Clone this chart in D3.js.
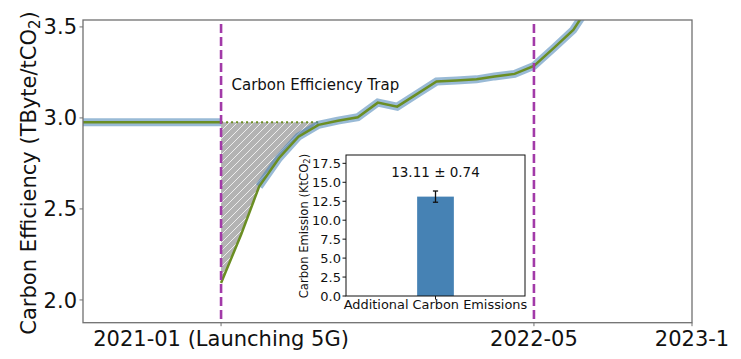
<!DOCTYPE html>
<html><head><meta charset="utf-8">
<script src="https://cdn.jsdelivr.net/npm/d3@7"></script>
<style>body{margin:0;background:#fff}svg{display:block;font-family:"DejaVu Sans",sans-serif}</style>
</head><body><svg id="c" width="741" height="359"></svg>
<script>
// ---- data ----
const preMonths = ["2020-06","2020-07","2020-08","2020-09","2020-10","2020-11","2020-12","2021-01"];
const preValues = [2.976,2.976,2.976,2.976,2.976,2.976,2.976,2.976];
const postMonths = ["2021-01","2021-02","2021-03","2021-04","2021-05","2021-06","2021-07","2021-08","2021-09","2021-10","2021-11","2021-12","2022-01","2022-02","2022-03","2022-04","2022-05","2022-06","2022-07","2022-08"];
const postValues = [2.093,2.358,2.623,2.78,2.897,2.962,2.985,3.004,3.084,3.062,3.132,3.200,3.206,3.212,3.228,3.242,3.286,3.385,3.484,3.65];
const blueStartMonth = "2021-03";
const trapBaseline = 2.976;
const trapEndMonth = "2021-06";
const eventMonths = ["2021-01","2022-05"];
const xTickMonths = ["2021-01","2022-05","2023-01"];
const xTickLabels = ["2021-01 (Launching 5G)","2022-05","2023-1"];
const yTicks = [2.0,2.5,3.0,3.5];
const insetCategories = ["Additional Carbon Emissions"];
const insetValues = [13.11];
const insetErrors = [0.74];
const insetTicks = [0,2.5,5,7.5,10,12.5,15,17.5];

// ---- setup ----
const parse = d3.utcParse("%Y-%m");
const svg = d3.select("#c");
const L=83,R=692,T=20,B=322.7;
const x = d3.scaleUtc().domain([parse("2020-06"),parse("2023-01")]).range([L,R]);
const y = d3.scaleLinear().domain([1.875,3.538]).range([B,T]);
const spine="#707070";

const defs = svg.append("defs");
defs.append("clipPath").attr("id","clip").append("rect").attr("x",L).attr("y",T).attr("width",R-L).attr("height",B-T);
const pat = defs.append("pattern").attr("id","hatch").attr("patternUnits","userSpaceOnUse").attr("width",8).attr("height",8);
pat.append("rect").attr("width",8).attr("height",8).attr("fill","#b3b3b3");
pat.append("path").attr("d","M-2,2 L2,-2 M0,8 L8,0 M6,10 L10,6").attr("stroke","#fff").attr("stroke-opacity",0.85).attr("stroke-width",0.9);

const g = svg.append("g").attr("clip-path","url(#clip)");
const pre = preMonths.map((m,i)=>({d:parse(m),v:preValues[i]}));
const post = postMonths.map((m,i)=>({d:parse(m),v:postValues[i]}));
const line = d3.line().x(p=>x(p.d)).y(p=>y(p.v));

// hatch area
const trap = post.filter(p=>p.d<=parse(trapEndMonth));
g.append("path").datum(trap).attr("fill","url(#hatch)")
  .attr("d",d3.area().x(p=>x(p.d)).y0(y(trapBaseline)).y1(p=>y(p.v)));
// dotted baseline
g.append("line").attr("x1",x(parse(eventMonths[0]))).attr("x2",x(parse(trapEndMonth)))
  .attr("y1",y(trapBaseline)).attr("y2",y(trapBaseline))
  .attr("stroke","#6b8e23").attr("stroke-width",2).attr("stroke-dasharray","2,3");

// blue halo
const bluePost = post.filter(p=>p.d>=parse(blueStartMonth));
[pre,bluePost].forEach(s=>g.append("path").datum(s).attr("d",line).attr("fill","none")
  .attr("stroke","#4682b4").attr("stroke-opacity",0.55).attr("stroke-width",8));
// green line
[pre,post].forEach(s=>g.append("path").datum(s).attr("d",line).attr("fill","none")
  .attr("stroke","#6b8e23").attr("stroke-width",2.5));

// event lines
eventMonths.forEach(m=>g.append("line").attr("x1",x(parse(m))).attr("x2",x(parse(m)))
  .attr("y1",T+4).attr("y2",B).attr("stroke","#a23aa8").attr("stroke-width",2.6).attr("stroke-dasharray","9,4"));

// text
svg.append("text").attr("x",231.5).attr("y",90).attr("font-size",15).attr("fill","#111").text("Carbon Efficiency Trap");

// spines
svg.append("rect").attr("x",L).attr("y",T).attr("width",R-L).attr("height",B-T).attr("fill","none").attr("stroke",spine).attr("stroke-width",1.3);

// y axis
const ya = svg.append("g");
yTicks.forEach(t=>{
  ya.append("line").attr("x1",L-3.5).attr("x2",L).attr("y1",y(t)).attr("y2",y(t)).attr("stroke",spine);
  ya.append("text").attr("x",L-6).attr("y",y(t)).attr("dy","0.36em").attr("text-anchor","end").attr("font-size",21).attr("fill","#111").text(t.toFixed(1));
});
// x axis
xTickMonths.forEach((m,i)=>{
  const xx=x(parse(m));
  svg.append("line").attr("x1",xx).attr("x2",xx).attr("y1",B).attr("y2",B+3.5).attr("stroke",spine);
  svg.append("text").attr("x",xx).attr("y",346).attr("text-anchor","middle").attr("font-size",21).attr("fill","#111").text(xTickLabels[i]);
});
// y label
const yl = svg.append("text").attr("transform","translate(36,173) rotate(-90)").attr("text-anchor","middle").attr("font-size",21).attr("fill","#111");
yl.append("tspan").text("Carbon Efficiency (TByte/tCO");
yl.append("tspan").attr("font-size",15).attr("dy",4).text("2");
yl.append("tspan").attr("dy",-4).text(")");

// ---- inset ----
const iL=346,iR=525,iT=155,iB=296;
const ix = d3.scaleLinear().domain([-1.95,1.95]).range([iL,iR]);
const iy = d3.scaleLinear().domain([0,18.6]).range([iB,iT]);
const ins = svg.append("g");
ins.append("rect").attr("x",iL).attr("y",iT).attr("width",iR-iL).attr("height",iB-iT).attr("fill","#fff");
insetValues.forEach((v,i)=>{
  ins.append("rect").attr("x",ix(i-0.4)).attr("width",ix(0.4)-ix(-0.4)).attr("y",iy(v)).attr("height",iy(0)-iy(v)).attr("fill","#4682b4");
  const e=insetErrors[i], cx=ix(i);
  ins.append("line").attr("x1",cx).attr("x2",cx).attr("y1",iy(v-e)).attr("y2",iy(v+e)).attr("stroke","#111").attr("stroke-width",1.3);
  [v-e,v+e].forEach(q=>ins.append("line").attr("x1",cx-2.6).attr("x2",cx+2.6).attr("y1",iy(q)).attr("y2",iy(q)).attr("stroke","#111").attr("stroke-width",1.3));
  ins.append("text").attr("x",cx).attr("y",177).attr("text-anchor","middle").attr("font-size",13.5).attr("fill","#111").text(v.toFixed(2)+" ± "+e.toFixed(2));
  ins.append("line").attr("x1",cx).attr("x2",cx).attr("y1",iB).attr("y2",iB+3.5).attr("stroke","#111");
  ins.append("text").attr("x",cx).attr("y",309).attr("text-anchor","middle").attr("font-size",12.9).attr("fill","#111").text(insetCategories[i]);
});
insetTicks.forEach(t=>{
  ins.append("line").attr("x1",iL-3.5).attr("x2",iL).attr("y1",iy(t)).attr("y2",iy(t)).attr("stroke","#111");
  ins.append("text").attr("x",iL-5).attr("y",iy(t)).attr("dy","0.36em").attr("text-anchor","end").attr("font-size",13).attr("fill","#111").text(t.toFixed(1));
});
ins.append("rect").attr("x",iL).attr("y",iT).attr("width",iR-iL).attr("height",iB-iT).attr("fill","none").attr("stroke","#111").attr("stroke-width",1);
const il = ins.append("text").attr("transform","translate(307.5,226) rotate(-90)").attr("text-anchor","middle").attr("font-size",11.6).attr("fill","#111");
il.append("tspan").text("Carbon Emission (KtCO");
il.append("tspan").attr("font-size",8.5).attr("dy",2.5).text("2");
il.append("tspan").attr("dy",-2.5).text(")");
</script></body></html>
